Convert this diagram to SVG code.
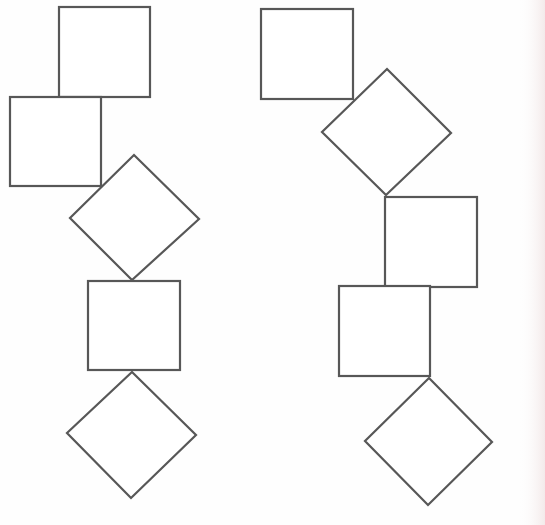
<svg xmlns="http://www.w3.org/2000/svg" width="545" height="525" viewBox="0 0 545 525">
<style>
.s{fill:#fff;stroke:#575757;stroke-width:2.2;stroke-linejoin:miter}
</style>
<defs>
<linearGradient id="edge" x1="0" x2="1" y1="0" y2="0">
<stop offset="0" stop-color="#fff" stop-opacity="0"/>
<stop offset="1" stop-color="#f3eaea"/>
</linearGradient>
</defs>
<rect width="545" height="525" fill="#fefefe"/>
<rect x="518" y="0" width="27" height="525" fill="url(#edge)"/>
<g id="connectors"/>
<g id="left-square-1"><rect class="s" x="59" y="7" width="91" height="90"/></g>
<g id="left-square-2"><rect class="s" x="10" y="97" width="91" height="89"/></g>
<g id="left-diamond-1"><polygon class="s" points="134,155 199,219 132,280 70,218"/></g>
<g id="left-square-3"><rect class="s" x="88" y="281" width="92" height="89"/></g>
<g id="left-diamond-2"><polygon class="s" points="132,372 196,435 131,498 67,433"/></g>
<g id="right-square-1"><rect class="s" x="261" y="9" width="92" height="90"/></g>
<g id="right-diamond-1"><polygon class="s" points="387,69 451,133 386,195 322,132"/></g>
<g id="right-square-2"><rect class="s" x="385" y="197" width="92" height="90"/></g>
<g id="right-square-3"><rect class="s" x="339" y="286" width="91" height="90"/></g>
<g id="right-diamond-2"><polygon class="s" points="429,378 492,442 428,505 365,441"/></g>
</svg>
